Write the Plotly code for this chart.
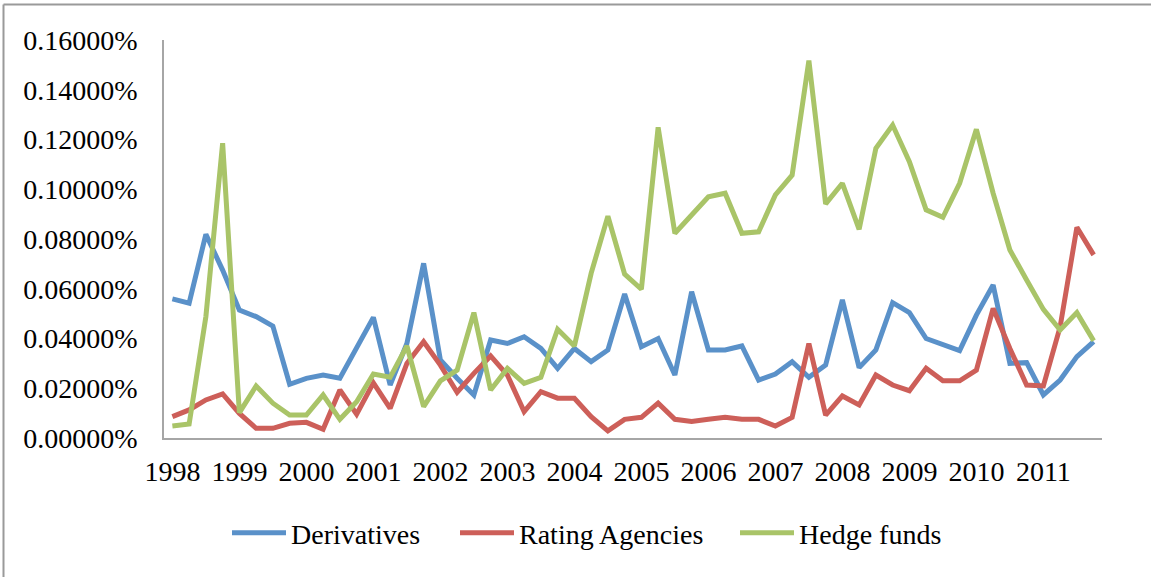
import plotly.graph_objects as go

years = [str(y) for y in range(1998, 2012)]
quarters = [f"{y} Q{q}" for y in years for q in range(1, 5)]

derivatives = [0.0559, 0.0542, 0.0819, 0.0675, 0.0514, 0.0488, 0.0450, 0.0216, 0.0240, 0.0253,
               0.0240, 0.0367, 0.0485, 0.0213, 0.0380, 0.0702, 0.0314, 0.0240, 0.0173, 0.0394,
               0.0380, 0.0407, 0.0360, 0.0280, 0.0360, 0.0307, 0.0354, 0.0579, 0.0367, 0.0400,
               0.0253, 0.0588, 0.0354, 0.0354, 0.0370, 0.0233, 0.0257, 0.0307, 0.0244, 0.0293,
               0.0555, 0.0283, 0.0354, 0.0544, 0.0504, 0.0400, 0.0374, 0.0351, 0.0494, 0.0615,
               0.0300, 0.0303, 0.0173, 0.0233, 0.0327, 0.0387]

rating_agencies = [0.0086, 0.0113, 0.0153, 0.0177, 0.0099, 0.0039, 0.0039, 0.0059, 0.0063, 0.0035,
                   0.0193, 0.0096, 0.0222, 0.0119, 0.0300, 0.0387, 0.0293, 0.0184, 0.0260, 0.0330,
                   0.0253, 0.0106, 0.0186, 0.0160, 0.0160, 0.0086, 0.0029, 0.0075, 0.0083, 0.0140,
                   0.0075, 0.0066, 0.0075, 0.0083, 0.0075, 0.0075, 0.0048, 0.0083, 0.0380, 0.0092,
                   0.0169, 0.0133, 0.0253, 0.0213, 0.0190, 0.0280, 0.0230, 0.0230, 0.0273, 0.0521,
                   0.0360, 0.0213, 0.0209, 0.0447, 0.0847, 0.0736]

hedge_funds = [0.0048, 0.0056, 0.0488, 0.1185, 0.0102, 0.0209, 0.0140, 0.0092, 0.0092, 0.0173,
               0.0075, 0.0146, 0.0257, 0.0244, 0.0370, 0.0126, 0.0230, 0.0273, 0.0504, 0.0193,
               0.0280, 0.0220, 0.0244, 0.0437, 0.0370, 0.0662, 0.0892, 0.0659, 0.0598, 0.1249,
               0.0823, 0.0896, 0.0970, 0.0984, 0.0823, 0.0829, 0.0977, 0.1057, 0.1517, 0.0941,
               0.1024, 0.0839, 0.1165, 0.1258, 0.1111, 0.0917, 0.0887, 0.1024, 0.1241, 0.0984,
               0.0756, 0.0635, 0.0517, 0.0434, 0.0504, 0.0391]

series = [
    ("Derivatives", derivatives, "#5a91c9", "legend", 232),
    ("Rating Agencies", rating_agencies, "#cd5f59", "legend2", 460),
    ("Hedge funds", hedge_funds, "#a9c468", "legend3", 740),
]

FONT = "Liberation Serif"
L, R, T, B = 164, 1102, 40, 438
W, H = R - L, B - T

fig = go.Figure()
legends = {}
for name, vals, color, leg, lx in series:
    fig.add_trace(go.Scatter(
        x=quarters, y=vals, name=name, mode="lines", legend=leg,
        line=dict(color=color, width=5),
    ))
    legends[leg] = dict(
        orientation="h", x=(lx - 5 - L) / W, xanchor="left",
        y=(B - 533) / H, yanchor="middle",
        font=dict(family=FONT, size=28, color="black"),
        itemwidth=54, borderwidth=0,
    )

fig.update_layout(
    width=1151, height=577,
    margin=dict(l=L, r=1151 - R, t=T, b=577 - B, autoexpand=False),
    paper_bgcolor="white", plot_bgcolor="white",
    font=dict(family=FONT, size=28, color="black"),
    showlegend=True,
    **legends,
    xaxis=dict(
        type="category", categoryorder="array", categoryarray=quarters,
        range=[-0.5, len(quarters) - 0.5],
        tickmode="array", tickvals=[f"{y} Q1" for y in years], ticktext=years,
        tickangle=0,
        showgrid=False, zeroline=False,
        showline=True, linecolor="#a6a6a6", linewidth=1.5,
        ticks="", ticklabelstandoff=8,
        tickfont=dict(family=FONT, size=28),
    ),
    yaxis=dict(
        range=[0, 0.16], dtick=0.02, tick0=0,
        tickformat=".5f", ticksuffix="%",
        showgrid=False, zeroline=False,
        showline=True, linecolor="#a6a6a6", linewidth=1.5,
        ticks="", ticklabelstandoff=19,
        tickfont=dict(family=FONT, size=28),
    ),
    shapes=[
        dict(type="line", xref="paper", yref="paper",
             x0=(3.5 - L) / W, x1=(1160 - L) / W,
             y0=(B - 4.5) / H, y1=(B - 4.5) / H,
             line=dict(color="#9a9a9a", width=2)),
        dict(type="line", xref="paper", yref="paper",
             x0=(3.5 - L) / W, x1=(3.5 - L) / W,
             y0=(B - 4.5) / H, y1=(B - 600) / H,
             line=dict(color="#9a9a9a", width=2)),
    ],
)

fig.write_html("out.html")
